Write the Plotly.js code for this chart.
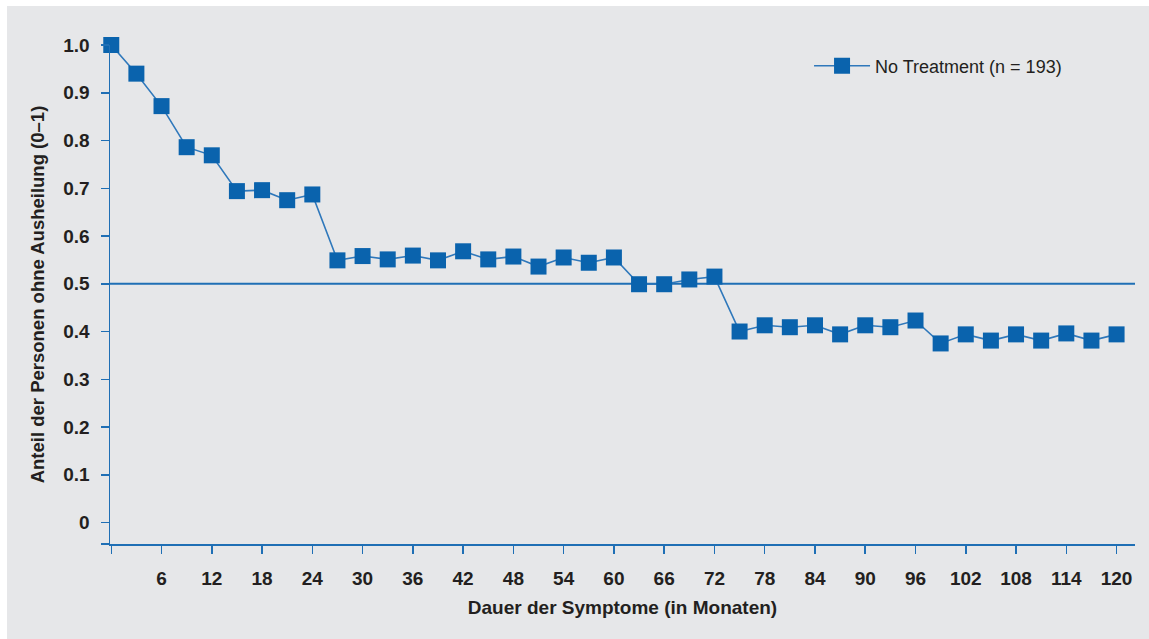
<!DOCTYPE html>
<html>
<head>
<meta charset="utf-8">
<script src="https://cdn.plot.ly/plotly-3.0.1.min.js"></script>
<style>html,body{margin:0;padding:0;background:#fff;}#chart{width:1149px;height:639px;}</style>
</head>
<body>
<div id="chart"></div>
<script>
// Data
const months = [0,3,6,9,12,15,18,21,24,27,30,33,36,39,42,45,48,51,54,57,60,63,66,69,72,75,78,81,84,87,90,93,96,99,102,105,108,111,114,117,120];
const noTreatment = [1.00,0.94,0.872,0.786,0.769,0.694,0.696,0.675,0.687,0.549,0.558,0.551,0.559,0.549,0.568,0.551,0.557,0.536,0.555,0.544,0.555,0.499,0.499,0.509,0.515,0.400,0.413,0.409,0.413,0.394,0.413,0.409,0.423,0.375,0.394,0.381,0.394,0.381,0.396,0.381,0.394];
const seriesName = 'No Treatment (n = 193)';
const xTickVals = [0,6,12,18,24,30,36,42,48,54,60,66,72,78,84,90,96,102,108,114,120];
const xTickText = ['','6','12','18','24','30','36','42','48','54','60','66','72','78','84','90','96','102','108','114','120'];
const yTickVals = [-0.045,0,0.1,0.2,0.3,0.4,0.5,0.6,0.7,0.8,0.9,1.0];
const yTickText = ['','0','0.1','0.2','0.3','0.4','0.5','0.6','0.7','0.8','0.9','1.0'];
const refLine = 0.5;

const blue = '#0a63ad';
const lineBlue = '#2f78bb';
const axisBlue = '#1f6fb5';
const txt = '#231f20';
const panel = '#e6e7e9';
const font = 'Liberation Sans, Arial, sans-serif';

const trace = {
  x: months, y: noTreatment, name: seriesName,
  type: 'scatter', mode: 'lines+markers',
  line: {color: lineBlue, width: 1.6},
  marker: {symbol: 'square', size: 16, color: blue, line: {width: 0}},
  cliponaxis: false
};

const layout = {
  width: 1149, height: 639,
  margin: {l: 110, r: 14, t: 45, b: 95, pad: 0},
  paper_bgcolor: '#ffffff',
  plot_bgcolor: 'rgba(0,0,0,0)',
  showlegend: true,
  legend: {x: 0.682, y: 0.995, xanchor: 'left', yanchor: 'top', bgcolor: 'rgba(0,0,0,0)',
           font: {family: font, size: 18, color: txt}, itemwidth: 56},
  xaxis: {
    range: [-0.15, 122.2], showgrid: false, zeroline: false,
    showline: true, linecolor: axisBlue, linewidth: 1.5,
    ticks: 'outside', ticklen: 8, tickwidth: 1.5, tickcolor: axisBlue,
    tickmode: 'array', tickvals: xTickVals, ticktext: xTickText,
    ticklabelstandoff: 9,
    tickfont: {family: font, size: 19, color: txt, weight: 'bold'},
    title: {text: 'Dauer der Symptome (in Monaten)', standoff: 12,
            font: {family: font, size: 19, color: txt, weight: 'bold'}}
  },
  yaxis: {
    range: [-0.045, 1.0], showgrid: false, zeroline: false,
    showline: true, linecolor: axisBlue, linewidth: 1.5,
    ticks: 'outside', ticklen: 8, tickwidth: 1.5, tickcolor: axisBlue,
    tickmode: 'array', tickvals: yTickVals, ticktext: yTickText,
    ticklabelstandoff: 7,
    tickfont: {family: font, size: 19, color: txt, weight: 'bold'},
    title: {text: 'Anteil der Personen ohne Ausheilung (0–1)', standoff: 14,
            font: {family: font, size: 18.5, color: txt, weight: 'bold'}}
  },
  shapes: [
    {type: 'rect', xref: 'paper', yref: 'paper', x0: -0.1005, x1: 1.03, y0: -0.2, y1: 1.078,
     fillcolor: panel, line: {width: 0}, layer: 'below'},
    {type: 'line', xref: 'paper', yref: 'y', x0: 0, x1: 1, y0: refLine, y1: refLine,
     line: {color: axisBlue, width: 1.8}, layer: 'below'}
  ]
};

Plotly.newPlot('chart', [trace], layout, {displayModeBar: false, staticPlot: true});
</script>
</body>
</html>
